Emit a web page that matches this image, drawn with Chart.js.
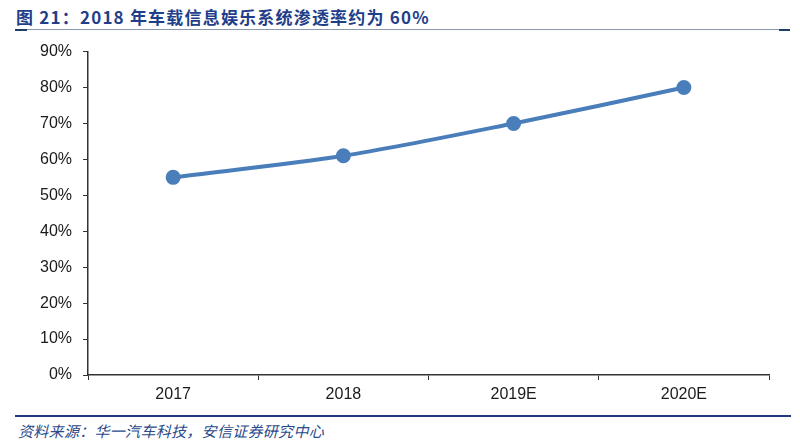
<!DOCTYPE html>
<html>
<head>
<meta charset="utf-8">
<script src="https://cdn.jsdelivr.net/npm/chart.js@4/dist/chart.umd.min.js"></script>
<style>
  html, body { margin: 0; padding: 0; background: #fff; }
  #wrap { position: relative; width: 800px; height: 443px; overflow: hidden; }
  #title {
    position: absolute; left: 16px; top: 4px;
    font-family: "Noto Sans CJK SC", "Liberation Sans", sans-serif;
    font-weight: bold; font-size: 17px; letter-spacing: 1.2px; color: #1f3f8a; white-space: nowrap;
  }
  #titleLine { position: absolute; left: 15px; top: 29px; width: 775px; height: 1px; background: #8c99ad; }
  #titleMarkL { position: absolute; left: 15px; top: 29px; width: 12px; height: 2px; background: #1f3f6a; }
  #titleMarkR { position: absolute; left: 779px; top: 29px; width: 11px; height: 2px; background: #1f3f6a; }
  #footLine { position: absolute; left: 15px; top: 415px; width: 776px; height: 2px; background: #1f3b7a; }
  #footer {
    position: absolute; left: 18px; top: 420px;
    font-family: "Noto Sans CJK SC", sans-serif; font-style: italic;
    font-size: 15px; letter-spacing: 0.3px; color: #2a4a8a; white-space: nowrap;
  }
  #chartBox { position: absolute; left: 0; top: 31px; width: 800px; height: 384px; }
</style>
</head>
<body>
<div id="wrap">
  <div id="title">图 21：2018 年车载信息娱乐系统渗透率约为 60%</div>
  <div id="titleLine"></div>
  <div id="titleMarkL"></div>
  <div id="titleMarkR"></div>
  <div id="chartBox"><canvas id="penetrationChart"></canvas></div>
  <div id="footLine"></div>
  <div id="footer">资料来源：华一汽车科技，安信证券研究中心</div>
</div>
<script>
// chart data
const years = ['2017', '2018', '2019E', '2020E'];
const penetrationRate = [55, 61, 70, 80]; // %
const yMin = 0;
const yMax = 90;
const yStep = 10;

const axisColor = '#333';
const lineColor = '#4a7ebb';

const ctx = document.getElementById('penetrationChart');

new Chart(ctx, {
    type: 'line',
    data: {
        labels: years,
        datasets: [{
            label: '渗透率',
            data: penetrationRate,
            borderColor: lineColor,
            backgroundColor: lineColor,
            borderWidth: 4,
            tension: 0.3,
            pointRadius: 5.5,
            pointBackgroundColor: lineColor,
            pointBorderColor: lineColor,
            fill: false
        }]
    },
    options: {
        responsive: true,
        maintainAspectRatio: false,
        animation: false,
        layout: {
            padding: { top: 1, right: 31, bottom: 0, left: 0 }
        },
        plugins: {
            legend: { display: false },
            tooltip: { enabled: false }
        },
        scales: {
            x: {
                offset: true,
                grid: {
                    offset: true,
                    drawOnChartArea: false,
                    drawTicks: true,
                    tickLength: 5,
                    color: axisColor
                },
                border: { display: true, color: axisColor, width: 1.5 },
                ticks: {
                    color: '#1a1a1a',
                    padding: 5,
                    font: { family: '"Liberation Sans", Arial, sans-serif', size: 16 }
                },
                afterFit: (scale) => { scale.height = 40; }
            },
            y: {
                min: yMin,
                max: yMax,
                grid: {
                    drawOnChartArea: false,
                    drawTicks: true,
                    tickLength: 5,
                    color: axisColor
                },
                border: { display: true, color: axisColor, width: 1.5 },
                ticks: {
                    stepSize: yStep,
                    color: '#1a1a1a',
                    padding: 11,
                    font: { family: '"Liberation Sans", Arial, sans-serif', size: 16 },
                    callback: (v) => v + '%'
                },
                afterFit: (scale) => { scale.width = 88; }
            }
        }
    }
});
</script>
</body>
</html>
